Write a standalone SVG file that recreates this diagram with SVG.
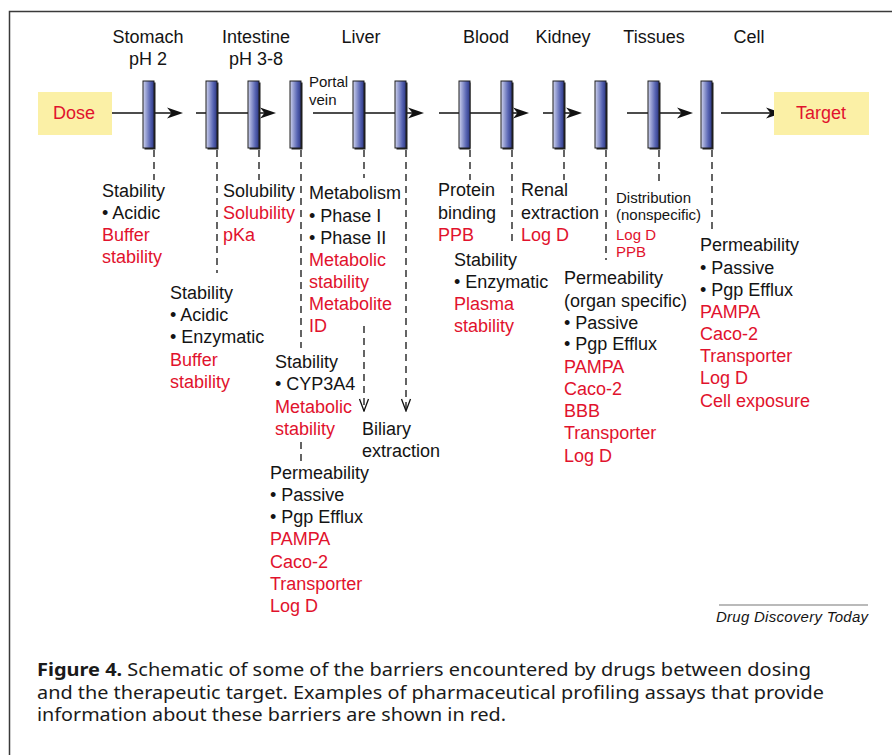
<svg xmlns="http://www.w3.org/2000/svg" width="892" height="755" viewBox="0 0 892 755">
<style>
.t{font-family:"Liberation Sans",Arial,Helvetica,sans-serif;font-size:18px;fill:#141414}
.r{fill:#e1122d}
.s{font-size:15px}
.hd{text-anchor:middle}
.box{fill:#fbf0a6}
.bar{fill:url(#barg);stroke:#1e1e1e;stroke-width:1}
.sh{fill:#1e1e1e}
.ln{stroke:#111;stroke-width:1.4;fill:none}
.ds{stroke:#111;stroke-width:1.3;fill:none;stroke-dasharray:7 5}
.cap{font-family:"Noto Sans","Open Sans",sans-serif;font-size:18px;fill:#1a1a1a}
</style>
<defs>
<linearGradient id="barg" x1="0" y1="0" x2="1" y2="0">
<stop offset="0" stop-color="#d3d6ef"/>
<stop offset="0.2" stop-color="#aab1dc"/>
<stop offset="0.65" stop-color="#5865b3"/>
<stop offset="1" stop-color="#2c3784"/>
</linearGradient>
<marker id="ah" viewBox="0 0 16 12" refX="12" refY="6" markerWidth="16" markerHeight="12" markerUnits="userSpaceOnUse" orient="auto">
<path d="M0,0.5 L16,6 L0,11.5 L4.5,6 Z" fill="#111"/>
</marker>
<marker id="vee" viewBox="0 0 14 12" refX="13" refY="6" markerWidth="14" markerHeight="12" markerUnits="userSpaceOnUse" orient="auto">
<path d="M1,1.5 L13,6 L1,10.5" fill="none" stroke="#111" stroke-width="1.3" stroke-dasharray="none"/>
</marker>
</defs>
<rect x="0" y="0" width="892" height="755" fill="#ffffff"/>
<rect x="9.5" y="11.5" width="900" height="800" fill="none" stroke="#3a3a3a" stroke-width="1.5"/>

<g id="connectors">
<line class="ln" x1="112" y1="113" x2="179" y2="113" marker-end="url(#ah)"/>
<line class="ln" x1="196" y1="113" x2="272" y2="113" marker-end="url(#ah)"/>
<line class="ln" x1="313" y1="113" x2="420" y2="113" marker-end="url(#ah)"/>
<line class="ln" x1="439" y1="113" x2="525" y2="113" marker-end="url(#ah)"/>
<line class="ln" x1="543" y1="113" x2="578" y2="113" marker-end="url(#ah)"/>
<line class="ln" x1="627" y1="113" x2="689" y2="113" marker-end="url(#ah)"/>
<line class="ln" x1="721" y1="113" x2="778" y2="113" marker-end="url(#ah)"/>
<line class="ds" x1="154" y1="150" x2="154" y2="180"/>
<line class="ds" x1="217" y1="150" x2="217" y2="273"/>
<line class="ds" x1="259" y1="150" x2="259" y2="180"/>
<line class="ds" x1="301" y1="150" x2="301" y2="348"/>
<line class="ds" x1="301" y1="442" x2="301" y2="462"/>
<line class="ds" x1="364" y1="150" x2="364" y2="178"/>
<line class="ds" x1="364" y1="326" x2="364" y2="411" marker-end="url(#vee)"/>
<line class="ds" x1="406" y1="150" x2="406" y2="411" marker-end="url(#vee)"/>
<line class="ds" x1="470" y1="150" x2="470" y2="180"/>
<line class="ds" x1="512" y1="150" x2="512" y2="245"/>
<line class="ds" x1="564" y1="150" x2="564" y2="180"/>
<line class="ds" x1="606" y1="150" x2="606" y2="260"/>
<line class="ds" x1="659" y1="150" x2="659" y2="182"/>
<line class="ds" x1="712" y1="150" x2="712" y2="230"/>
</g>

<g id="dose">
<rect class="box" x="38" y="92" width="74" height="43"/>
<text class="t r hd" x="74" y="119">Dose</text>
</g>

<g id="target">
<rect class="box" x="774" y="92" width="95" height="43"/>
<text class="t r hd" x="821" y="119">Target</text>
</g>

<g id="stomach">
<text class="t hd" x="148" y="43">Stomach</text>
<text class="t hd" x="148" y="65">pH 2</text>
<rect class="sh" x="144.5" y="82.5" width="11" height="67"/>
<rect class="bar" x="143" y="81" width="11" height="67"/>
<text class="t" x="102" y="197">Stability</text>
<text class="t" x="102" y="219">• Acidic</text>
<text class="t r" x="102" y="241">Buffer</text>
<text class="t r" x="102" y="263">stability</text>
</g>

<g id="intestine">
<text class="t hd" x="256" y="43">Intestine</text>
<text class="t hd" x="256" y="65">pH 3-8</text>
<rect class="sh" x="207.5" y="82.5" width="11" height="67"/>
<rect class="bar" x="206" y="81" width="11" height="67"/>
<rect class="sh" x="249.5" y="82.5" width="11" height="67"/>
<rect class="bar" x="248" y="81" width="11" height="67"/>
<text class="t" x="170" y="299">Stability</text>
<text class="t" x="170" y="321">• Acidic</text>
<text class="t" x="170" y="343">• Enzymatic</text>
<text class="t r" x="170" y="365.5">Buffer</text>
<text class="t r" x="170" y="387.5">stability</text>
<text class="t" x="223" y="197">Solubility</text>
<text class="t r" x="223" y="219">Solubility</text>
<text class="t r" x="223" y="241">pKa</text>
</g>

<g id="gut-wall">
<rect class="sh" x="291.5" y="82.5" width="11" height="67"/>
<rect class="bar" x="290" y="81" width="11" height="67"/>
<text class="t" x="275" y="368">Stability</text>
<text class="t" x="275" y="390">• CYP3A4</text>
<text class="t r" x="275" y="412.5">Metabolic</text>
<text class="t r" x="275" y="434.5">stability</text>
<text class="t" x="270" y="478.5">Permeability</text>
<text class="t" x="270" y="500.5">• Passive</text>
<text class="t" x="270" y="522.5">• Pgp Efflux</text>
<text class="t r" x="270" y="545">PAMPA</text>
<text class="t r" x="270" y="567.5">Caco-2</text>
<text class="t r" x="270" y="589.5">Transporter</text>
<text class="t r" x="270" y="611.5">Log D</text>
</g>

<g id="liver">
<text class="t hd" x="361" y="43">Liver</text>
<text class="t s" x="309" y="87">Portal</text>
<text class="t s" x="309" y="105">vein</text>
<rect class="sh" x="354.5" y="82.5" width="11" height="67"/>
<rect class="bar" x="353" y="81" width="11" height="67"/>
<rect class="sh" x="396.5" y="82.5" width="11" height="67"/>
<rect class="bar" x="395" y="81" width="11" height="67"/>
<text class="t" x="309" y="199">Metabolism</text>
<text class="t" x="309" y="221.5">• Phase I</text>
<text class="t" x="309" y="243.5">• Phase II</text>
<text class="t r" x="309" y="265.5">Metabolic</text>
<text class="t r" x="309" y="288">stability</text>
<text class="t r" x="309" y="310">Metabolite</text>
<text class="t r" x="309" y="332">ID</text>
<text class="t" x="362" y="435">Biliary</text>
<text class="t" x="362" y="457">extraction</text>
</g>

<g id="blood">
<text class="t hd" x="486" y="43">Blood</text>
<rect class="sh" x="459.5" y="82.5" width="11" height="67"/>
<rect class="bar" x="459" y="81" width="11" height="67"/>
<rect class="sh" x="502.5" y="82.5" width="11" height="67"/>
<rect class="bar" x="501" y="81" width="11" height="67"/>
<text class="t" x="438" y="196">Protein</text>
<text class="t" x="438" y="218.5">binding</text>
<text class="t r" x="438" y="240.5">PPB</text>
<text class="t" x="454" y="266">Stability</text>
<text class="t" x="454" y="288">• Enzymatic</text>
<text class="t r" x="454" y="310">Plasma</text>
<text class="t r" x="454" y="332">stability</text>
</g>

<g id="kidney">
<text class="t hd" x="563" y="43">Kidney</text>
<rect class="sh" x="554.5" y="82.5" width="11" height="67"/>
<rect class="bar" x="553" y="81" width="11" height="67"/>
<rect class="sh" x="596.5" y="82.5" width="11" height="67"/>
<rect class="bar" x="595" y="81" width="11" height="67"/>
<text class="t" x="521" y="196">Renal</text>
<text class="t" x="521" y="218.5">extraction</text>
<text class="t r" x="521" y="240.5">Log D</text>
<text class="t" x="564" y="284">Permeability</text>
<text class="t" x="564" y="306.5">(organ specific)</text>
<text class="t" x="564" y="328.5">• Passive</text>
<text class="t" x="564" y="350">• Pgp Efflux</text>
<text class="t r" x="564" y="372.5">PAMPA</text>
<text class="t r" x="564" y="395">Caco-2</text>
<text class="t r" x="564" y="417">BBB</text>
<text class="t r" x="564" y="439">Transporter</text>
<text class="t r" x="564" y="461.5">Log D</text>
</g>

<g id="tissues">
<text class="t hd" x="654" y="43">Tissues</text>
<rect class="sh" x="649.5" y="82.5" width="11" height="67"/>
<rect class="bar" x="648" y="81" width="11" height="67"/>
<text class="t s" x="616" y="203">Distribution</text>
<text class="t s" x="616" y="220">(nonspecific)</text>
<text class="t s r" x="616" y="240">Log D</text>
<text class="t s r" x="616" y="257">PPB</text>
</g>

<g id="cell">
<text class="t hd" x="749" y="43">Cell</text>
<rect class="sh" x="702.5" y="82.5" width="11" height="67"/>
<rect class="bar" x="701" y="81" width="11" height="67"/>
<text class="t" x="700" y="251">Permeability</text>
<text class="t" x="700" y="273.5">• Passive</text>
<text class="t" x="700" y="295.5">• Pgp Efflux</text>
<text class="t r" x="700" y="317.5">PAMPA</text>
<text class="t r" x="700" y="340">Caco-2</text>
<text class="t r" x="700" y="362">Transporter</text>
<text class="t r" x="700" y="384">Log D</text>
<text class="t r" x="700" y="406.5">Cell exposure</text>
</g>

<g id="credit">
<line x1="719" y1="605" x2="868" y2="605" stroke="#777" stroke-width="1.2"/>
<text class="t" x="716" y="621.5" style="font-size:15px;font-style:italic" textLength="152">Drug Discovery Today</text>
</g>

<g id="caption">
<text class="cap" x="37" y="676" textLength="774" lengthAdjust="spacingAndGlyphs"><tspan font-weight="bold">Figure 4.</tspan> Schematic of some of the barriers encountered by drugs between dosing</text>
<text class="cap" x="37" y="698.5" textLength="787" lengthAdjust="spacingAndGlyphs">and the therapeutic target. Examples of pharmaceutical profiling assays that provide</text>
<text class="cap" x="37" y="721" textLength="469" lengthAdjust="spacingAndGlyphs">information about these barriers are shown in red.</text>
</g>
</svg>
